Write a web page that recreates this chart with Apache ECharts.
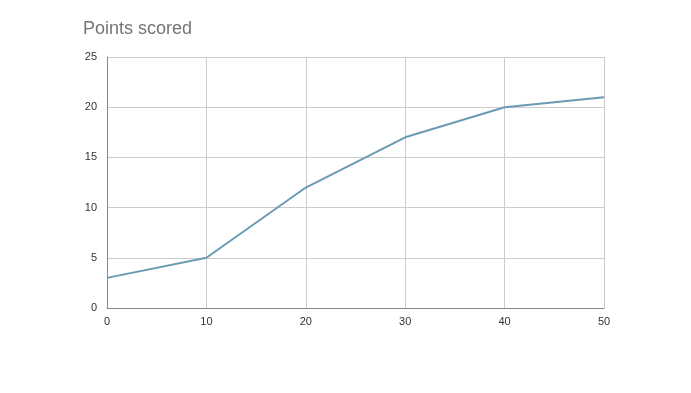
<!DOCTYPE html>
<html><head><meta charset="utf-8">
<script src="https://cdn.jsdelivr.net/npm/echarts@6/dist/echarts.min.js"></script>
<style>html,body{margin:0;padding:0;background:#fff}#c{width:691px;height:393px}</style>
</head><body><div id="c"></div>
<script>
const title = "Points scored";
const xValues = [0, 10, 20, 30, 40, 50];
const yValues = [3, 5, 12, 17, 20, 21];
const chart = echarts.init(document.getElementById('c'), null, {renderer: 'canvas'});
chart.setOption({
  animation: false,
  backgroundColor: '#ffffff',
  title: {text: title, left: 83, top: 20, padding: 0, textStyle: {fontFamily: 'Liberation Sans, Arial, sans-serif', fontSize: 18, fontWeight: 'normal', color: '#757575'}},
  grid: {left: 107, right: 87, top: 57, bottom: 85},
  xAxis: {type: 'value', min: 0, max: 50, interval: 10,
    axisLine: {show: true, lineStyle: {color: '#888888', width: 1}},
    axisTick: {show: false},
    axisLabel: {color: '#333333', fontSize: 11, fontFamily: 'Liberation Sans, Arial, sans-serif', margin: 8},
    splitLine: {show: true, lineStyle: {color: '#cccccc', width: 1}}},
  yAxis: {type: 'value', min: 0, max: 25, interval: 5,
    axisLine: {show: true, lineStyle: {color: '#888888', width: 1}},
    axisTick: {show: false},
    axisLabel: {color: '#333333', fontSize: 11, fontFamily: 'Liberation Sans, Arial, sans-serif', margin: 10},
    splitLine: {show: true, lineStyle: {color: '#cccccc', width: 1}}},
  series: [{type: 'line', data: xValues.map((x, i) => [x, yValues[i]]), showSymbol: false,
    lineStyle: {color: '#6a9bb4', width: 2}, itemStyle: {color: '#6a9bb4'}}]
});
</script></body></html>
